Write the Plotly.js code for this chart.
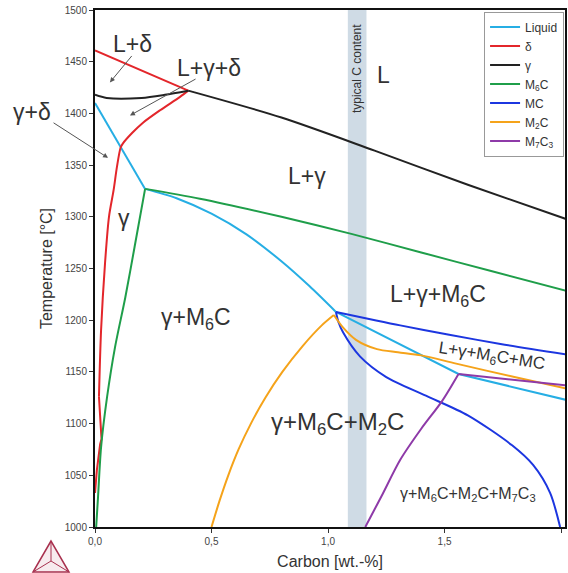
<!DOCTYPE html>
<html>
<head>
<meta charset="utf-8">
<script src="https://cdn.plot.ly/plotly-3.0.1.min.js"></script>
<style>html,body{margin:0;padding:0;background:#fff;}#chart{width:568px;height:573px;}</style>
</head>
<body>
<div id="chart"></div>
<script>
// ---- Data ----
// Liquid
const liquid1X = [0, 0.11, 0.215];
const liquid1T = [1410, 1367, 1327];
const liquid2X = [0.215, 0.35, 0.5, 0.65, 0.8, 0.92, 1.034];
const liquid2T = [1327, 1318, 1303, 1283, 1257, 1233, 1208];
const liquid3X = [1.034, 1.56, 2.02];
const liquid3T = [1208, 1148, 1123];
// delta
const delta1X = [0, 0.40];
const delta1T = [1461, 1422];
const delta2X = [0.40, 0.365, 0.279, 0.206, 0.159, 0.12, 0.11, 0.094, 0.08, 0.06, 0.043, 0.026, 0.017];
const delta2T = [1422, 1416, 1403, 1391, 1381, 1371, 1367, 1348, 1326, 1300, 1255, 1190, 1126];
const delta3X = [0.017, 0.028, 0.022, 0.008, 0];
const delta3T = [1126, 1085, 1080, 1055, 1033];
// gamma
const gamma1X = [0, 0.05, 0.2, 0.3, 0.40];
const gamma1T = [1418, 1415, 1415, 1418, 1422];
const gamma2X = [0.40, 0.8, 1.2, 1.6, 2.02];
const gamma2T = [1422, 1396, 1364, 1331, 1298];
// M6C
const m6c1X = [0.005, 0.013, 0.026, 0.052, 0.086, 0.13, 0.17, 0.215];
const m6c1T = [1000, 1029, 1077, 1126, 1174, 1222, 1271, 1327];
const m6c2X = [0.215, 0.45, 0.8, 1.1, 1.4, 1.7, 2.02];
const m6c2T = [1327, 1317.5, 1300, 1283.5, 1265.5, 1247.5, 1228.5];
// MC
const mcUpperX = [1.034, 1.31, 1.52, 1.74, 2.02];
const mcUpperT = [1208, 1195, 1186, 1177, 1167];
const mcLowerX = [1.034, 1.045, 1.065, 1.137, 1.25, 1.42, 1.6, 1.79, 1.88, 1.953, 1.996];
const mcLowerT = [1208, 1198, 1188, 1165, 1145, 1127, 1108, 1079, 1060, 1033, 1000];
// M2C
const m2c1X = [0.50, 0.534, 0.572, 0.616, 0.669, 0.731, 0.804, 0.891, 0.973, 1.025];
const m2c1T = [1000, 1025, 1050, 1075, 1100, 1125, 1150, 1175, 1195, 1205];
const m2c2X = [1.025, 1.064, 1.12, 1.21, 1.30, 1.40, 1.55, 1.8, 2.02];
const m2c2T = [1205, 1193, 1181, 1172, 1169, 1166, 1158, 1145, 1134];
// M7C3
const m7c31X = [1.16, 1.23, 1.31, 1.40, 1.49, 1.56];
const m7c31T = [1000, 1030, 1065, 1095, 1122, 1148];
const m7c32X = [1.56, 1.8, 2.02];
const m7c32T = [1148, 1142, 1137];

const bandX = [1.085, 1.165];
const xTickVals = [0, 0.5, 1.0, 1.5, 2.0];
const xTickText = ["0,0", "0,5", "1,0", "1,5", "2,0"];
const yTickVals = [1000, 1050, 1100, 1150, 1200, 1250, 1300, 1350, 1400, 1450, 1500];

const colors = {
  liquid: "#26aee4", delta: "#e3262b", gamma: "#222222", m6c: "#1f9e4a",
  mc: "#1c36e0", m2c: "#f5a31a", m7c3: "#8e3aa8"
};

function tr(x, y, name, color, show, smooth) {
  return {x: x, y: y, type: "scatter", mode: "lines", name: name,
    showlegend: show, legendgroup: name,
    line: {color: color, width: 2, shape: smooth ? "spline" : "linear", smoothing: 0.8},
    hoverinfo: "skip"};
}

const traces = [
  tr(liquid1X, liquid1T, "Liquid", colors.liquid, true, false),
  tr(liquid2X, liquid2T, "Liquid", colors.liquid, false, true),
  tr(liquid3X, liquid3T, "Liquid", colors.liquid, false, false),
  tr(delta1X, delta1T, "δ", colors.delta, true, false),
  tr(delta2X, delta2T, "δ", colors.delta, false, true),
  tr(delta3X, delta3T, "δ", colors.delta, false, false),
  tr(gamma1X, gamma1T, "γ", colors.gamma, true, true),
  tr(gamma2X, gamma2T, "γ", colors.gamma, false, true),
  tr(m6c1X, m6c1T, "M<sub>6</sub>C", colors.m6c, true, true),
  tr(m6c2X, m6c2T, "M<sub>6</sub>C", colors.m6c, false, true),
  tr(mcUpperX, mcUpperT, "MC", colors.mc, true, true),
  tr(mcLowerX, mcLowerT, "MC", colors.mc, false, true),
  tr(m2c1X, m2c1T, "M<sub>2</sub>C", colors.m2c, true, true),
  tr(m2c2X, m2c2T, "M<sub>2</sub>C", colors.m2c, false, true),
  tr(m7c31X, m7c31T, "M<sub>7</sub>C<sub>3</sub>", colors.m7c3, true, true),
  tr(m7c32X, m7c32T, "M<sub>7</sub>C<sub>3</sub>", colors.m7c3, false, false)
];

const txt = "#333333";
const FF = "Liberation Sans, Arial, sans-serif";
function lab(x, y, t, size, extra) {
  return Object.assign({x: x, y: y, xref: "x", yref: "y", text: t, showarrow: false,
    xanchor: "center", yanchor: "middle",
    font: {family: FF, size: size, color: txt}}, extra || {});
}
function arr(x, y, ax, ay) {
  return {x: x, y: y, ax: ax, ay: ay, xref: "x", yref: "y", axref: "x", ayref: "y",
    text: "", showarrow: true, arrowhead: 2, arrowsize: 1, arrowwidth: 1, arrowcolor: "#555"};
}
function px(p) { return (p - 95) / 470; }
function py(p) { return (527 - p) / 517; }

const annotations = [
  lab(0.163, 1467, "L+δ", 23),
  arr(0.064, 1430, 0.163, 1457),
  lab(0.49, 1444, "L+γ+δ", 23),
  arr(0.15, 1398, 0.438, 1434),
  {x: px(32), y: py(112), xref: "paper", yref: "paper", text: "γ+δ", showarrow: false,
   xanchor: "center", yanchor: "middle", font: {family: FF, size: 23, color: txt}},
  {x: 0.056, y: 1357, xref: "x", yref: "y", ax: -56, ay: -36, axref: "pixel", ayref: "pixel",
   text: "", showarrow: true, arrowhead: 2, arrowsize: 1, arrowwidth: 1, arrowcolor: "#555"},
  lab(1.236, 1437, "L", 23),
  lab(0.91, 1339, "L+γ", 23),
  lab(0.125, 1299, "γ", 23),
  lab(0.433, 1202, "γ+M<sub>6</sub>C", 23),
  lab(1.47, 1224, "L+γ+M<sub>6</sub>C", 23),
  lab(1.70, 1164, "L+γ+M<sub>6</sub>C+MC", 17, {textangle: 9}),
  lab(1.04, 1100, "γ+M<sub>6</sub>C+M<sub>2</sub>C", 24),
  lab(1.6, 1031, "γ+M<sub>6</sub>C+M<sub>2</sub>C+M<sub>7</sub>C<sub>3</sub>", 16),
  lab(1.125, 1443, "typical C content", 12, {textangle: -90})
];

// Logo (paper coordinates)
const lc = "#a8304e";
const A = [px(51), py(541)], B = [px(33), py(572)], C = [px(69), py(572)], O = [px(51), py(561)];
const shapes = [
  {type: "rect", xref: "x", yref: "paper", x0: bandX[0], x1: bandX[1], y0: 0, y1: 1,
   fillcolor: "#cfdbe5", line: {width: 0}, layer: "below"},
  {type: "path", xref: "paper", yref: "paper",
   path: `M${A[0]},${A[1]} L${B[0]},${B[1]} L${C[0]},${C[1]} Z`,
   fillcolor: "rgba(200,120,140,0.15)", line: {color: lc, width: 1.5}},
  {type: "path", xref: "paper", yref: "paper",
   path: `M${A[0]},${A[1]} L${O[0]},${O[1]} M${B[0]},${B[1]} L${O[0]},${O[1]} M${C[0]},${C[1]} L${O[0]},${O[1]}`,
   line: {color: lc, width: 1}}
];

const layout = {
  width: 568, height: 573,
  margin: {l: 95, r: 3, t: 10, b: 46},
  paper_bgcolor: "#ffffff", plot_bgcolor: "#ffffff",
  font: {family: FF, color: txt},
  showlegend: true,
  legend: {x: 0.998, xanchor: "right", y: 0.997, yanchor: "top",
    bgcolor: "#ffffff", bordercolor: "#999999", borderwidth: 1,
    font: {size: 12, color: txt}, tracegroupgap: 0, itemwidth: 30},
  xaxis: {range: [0, 2.017], tickvals: xTickVals, ticktext: xTickText,
    showgrid: false, zeroline: false, showline: true, linecolor: "#111", linewidth: 2, mirror: true,
    ticks: "outside", ticklen: 4, tickcolor: "#333", tickfont: {size: 10, color: "#444"},
    title: {text: "Carbon [wt.-%]", font: {size: 16, color: txt}, standoff: 10}},
  yaxis: {range: [1000, 1500], tickvals: yTickVals,
    showgrid: false, zeroline: false, showline: true, linecolor: "#111", linewidth: 2, mirror: true,
    ticks: "outside", ticklen: 4, tickcolor: "#333", tickfont: {size: 10, color: "#444"},
    title: {text: "Temperature [°C]", font: {size: 16, color: txt}, standoff: 8}},
  annotations: annotations,
  shapes: shapes
};

Plotly.newPlot("chart", traces, layout, {displayModeBar: false, staticPlot: true});
</script>
</body>
</html>
